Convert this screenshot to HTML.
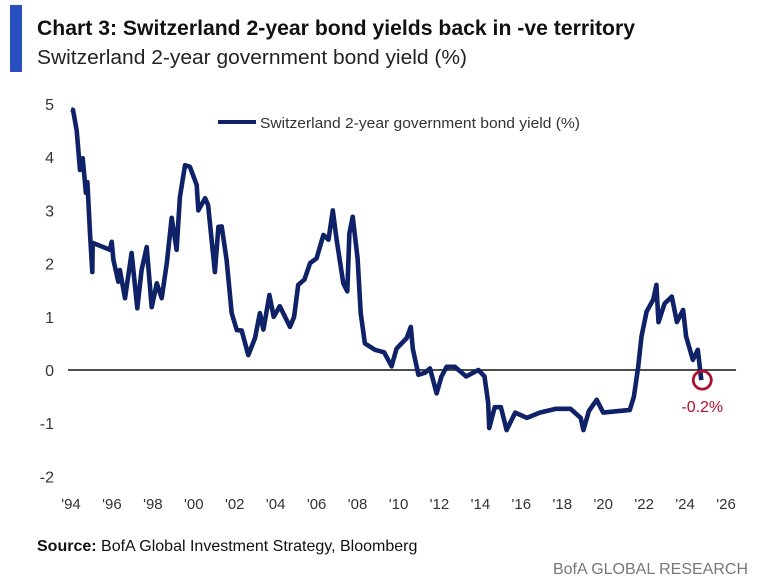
<!DOCTYPE html>
<html><head><meta charset="utf-8"><style>
html,body{margin:0;padding:0;background:#fff;}
svg{display:block;font-family:"Liberation Sans",sans-serif;}
</style></head><body>
<svg id="chart" width="768" height="585" viewBox="0 0 768 585">
<rect x="10" y="5" width="12" height="67" fill="#2a4fc0"/>
<text x="37" y="35" font-size="21" font-weight="bold" fill="#111" textLength="598" lengthAdjust="spacingAndGlyphs">Chart 3: Switzerland 2-year bond yields back in -ve territory</text>
<text x="37" y="64" font-size="20" fill="#222" textLength="430" lengthAdjust="spacingAndGlyphs">Switzerland 2-year government bond yield (%)</text>
<g id="yaxis"></g>
<g id="xaxis"></g>
<line x1="218" y1="122" x2="256" y2="122" stroke="#0f2167" stroke-width="4"/>
<text x="260" y="128" font-size="15" fill="#333" textLength="320" lengthAdjust="spacingAndGlyphs">Switzerland 2-year government bond yield (%)</text>
<g id="plot"></g>
<text x="37" y="551" font-size="16" fill="#111"><tspan font-weight="bold">Source:</tspan> BofA Global Investment Strategy, Bloomberg</text>
<text x="748" y="574" font-size="16" fill="#777" text-anchor="end">BofA GLOBAL RESEARCH</text>
</svg>
<script>
const years=[1994.0,1994.1,1994.28,1994.44,1994.57,1994.73,1994.8,1994.93,1995.04,1995.06,1995.9,1995.99,1996.07,1996.31,1996.39,1996.64,1996.96,1997.24,1997.45,1997.7,1997.94,1998.19,1998.43,1998.68,1998.92,1999.16,1999.32,1999.57,1999.81,2000.14,2000.22,2000.55,2000.7,2001.03,2001.2,2001.36,2001.6,2001.85,2002.1,2002.34,2002.66,2002.99,2003.23,2003.4,2003.69,2003.9,2004.2,2004.7,2004.9,2005.1,2005.4,2005.68,2006.0,2006.33,2006.58,2006.79,2006.98,2007.3,2007.5,2007.6,2007.76,2008.0,2008.15,2008.36,2008.85,2009.3,2009.66,2009.9,2010.4,2010.6,2010.7,2010.97,2011.3,2011.54,2011.86,2012.1,2012.35,2012.75,2013.3,2013.9,2014.2,2014.38,2014.43,2014.7,2015.0,2015.28,2015.7,2016.27,2016.9,2017.7,2018.4,2018.9,2019.03,2019.3,2019.68,2020.0,2021.3,2021.5,2021.71,2021.87,2022.12,2022.44,2022.6,2022.7,2023.0,2023.35,2023.6,2023.9,2024.05,2024.38,2024.62,2024.79];
const yields=[4.9,4.89,4.5,3.76,3.98,3.33,3.53,2.57,1.84,2.39,2.26,2.41,2.07,1.66,1.88,1.35,2.2,1.16,1.88,2.31,1.18,1.63,1.35,2.01,2.86,2.26,3.25,3.85,3.82,3.48,3.0,3.23,3.1,1.84,2.69,2.7,2.07,1.07,0.75,0.74,0.28,0.6,1.07,0.76,1.41,1.0,1.2,0.81,1.0,1.6,1.7,2.01,2.1,2.54,2.45,3.0,2.44,1.63,1.48,2.57,2.88,2.1,1.07,0.5,0.38,0.33,0.07,0.4,0.6,0.81,0.4,-0.09,-0.05,0.03,-0.44,-0.12,0.06,0.06,-0.12,0,-0.12,-0.62,-1.09,-0.7,-0.7,-1.13,-0.8,-0.9,-0.8,-0.73,-0.73,-0.9,-1.13,-0.77,-0.56,-0.8,-0.75,-0.5,0.06,0.63,1.1,1.32,1.6,0.9,1.25,1.38,0.9,1.13,0.63,0.19,0.38,-0.19];
const yTicks=[5,4,3,2,1,0,-1,-2];
const xTicks=[1994,1996,1998,2000,2002,2004,2006,2008,2010,2012,2014,2016,2018,2020,2022,2024,2026];
const xTickLabels=["'94","'96","'98","'00","'02","'04","'06","'08","'10","'12","'14","'16","'18","'20","'22","'24","'26"];
const lastLabel="-0.2%";
const NS="http://www.w3.org/2000/svg";
const X=y=>71+(y-1994)*20.47;
const Y=v=>370-v*53.2;
function mk(t,a,p){const e=document.createElementNS(NS,t);for(const k in a)e.setAttribute(k,a[k]);p.appendChild(e);return e;}
const ya=document.getElementById('yaxis'),xa=document.getElementById('xaxis'),pl=document.getElementById('plot');
yTicks.forEach(v=>{const t=mk('text',{x:54,y:Y(v)+6,'font-size':16,fill:'#333','text-anchor':'end'},ya);t.textContent=v;

});
xTicks.forEach((yr,i)=>{const t=mk('text',{x:X(yr),y:509,'font-size':15,fill:'#333','text-anchor':'middle'},xa);t.textContent=xTickLabels[i];

});
const zl=mk('line',{x1:X(1994)-3,x2:X(2026)+10,y1:Y(0),y2:Y(0),stroke:'#111','stroke-width':1.5},pl);


const d=years.map((yr,i)=>(i?'L':'M')+X(yr).toFixed(1)+','+Y(yields[i]).toFixed(1)).join(' ');
const ln=mk('path',{d:d,fill:'none',stroke:'#0f2167','stroke-width':4.6,'stroke-linejoin':'round'},pl);


const n=years.length-1;
const c=mk('circle',{cx:X(years[n])+1,cy:Y(yields[n]),r:9,fill:'none',stroke:'#b01030','stroke-width':2.8},pl);


const lt=mk('text',{x:X(years[n])+1,y:Y(yields[n])+32,'font-size':16,fill:'#b01030','text-anchor':'middle'},pl);
lt.textContent=lastLabel;


</script>
</body></html>
